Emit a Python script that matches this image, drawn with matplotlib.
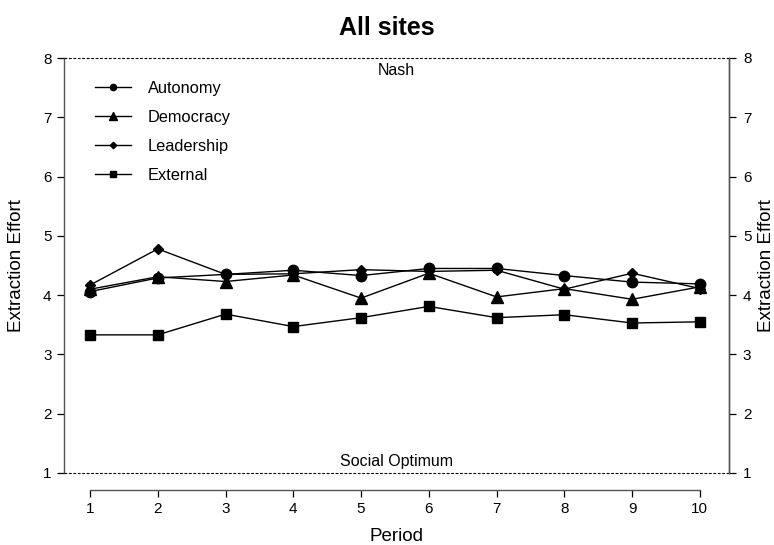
import numpy as np
import matplotlib.pyplot as plt

plt.rcParams['font.family'] = ['Liberation Sans', 'DejaVu Sans']

periods = [1, 2, 3, 4, 5, 6, 7, 8, 9, 10]
autonomy = [4.06, 4.29, 4.35, 4.42, 4.33, 4.45, 4.45, 4.33, 4.22, 4.19]
democracy = [4.10, 4.31, 4.23, 4.34, 3.95, 4.37, 3.97, 4.11, 3.93, 4.14]
leadership = [4.17, 4.78, 4.35, 4.36, 4.43, 4.40, 4.42, 4.10, 4.37, 4.11]
external = [3.33, 3.33, 3.68, 3.47, 3.62, 3.81, 3.62, 3.67, 3.53, 3.55]
nash_level = 8
social_level = 1

fig = plt.figure(figsize=(7.74, 5.45), dpi=100)
ax = fig.add_axes([64 / 774, 1 - 473 / 545, 665 / 774, 415 / 545])

ax.plot(periods, autonomy, color='black', lw=1, marker='o', ms=7.5, label='Autonomy')
ax.plot(periods, democracy, color='black', lw=1, marker='^', ms=8.5, label='Democracy')
ax.plot(periods, leadership, color='black', lw=1, marker='D', ms=5.5, label='Leadership')
ax.plot(periods, external, color='black', lw=1, marker='s', ms=7.5, label='External')

ax.axhline(nash_level, color='black', lw=0.8, ls=(0, (2.5, 1.5)), clip_on=False, zorder=5)
ax.axhline(social_level, color='black', lw=0.8, ls=(0, (2.5, 1.5)), clip_on=False, zorder=5)
ax.text(0.5, nash_level - 0.09, 'Nash', transform=ax.get_yaxis_transform(),
        ha='center', va='top', fontsize=11.5)
ax.text(0.5, social_level + 0.06, 'Social Optimum', transform=ax.get_yaxis_transform(),
        ha='center', va='bottom', fontsize=11.5)

ax.set_xlim(0.616, 10.43)
ax.set_ylim(1, 8)
ax.set_xticks(periods)
ax.set_yticks(range(1, 9))
ax.spines['top'].set_visible(False)
ax.spines['bottom'].set_position(('outward', 12.2))
ax.spines['bottom'].set_bounds(1, 10)
for s in ['left', 'right', 'bottom']:
    ax.spines[s].set_linewidth(1.0)
    ax.spines[s].set_color('#555555')
ax.tick_params(axis='both', direction='out', length=5, width=0.9, labelsize=11, pad=4)
ax.set_xlabel('Period', fontsize=13.5, labelpad=8)
ax.set_ylabel('Extraction Effort', fontsize=13.5, labelpad=13)

ax2 = ax.twinx()
ax2.set_ylim(1, 8)
ax2.set_yticks(range(1, 9))
for s in ['top', 'bottom', 'left']:
    ax2.spines[s].set_visible(False)
ax2.spines['right'].set_linewidth(1.0)
ax2.spines['right'].set_color('#555555')
ax2.tick_params(axis='y', direction='out', length=5, width=0.9, labelsize=11, pad=5)
ax2.set_ylabel('Extraction Effort', fontsize=13.5, labelpad=5)

ax.legend(loc='upper left', bbox_to_anchor=(0.025, 0.98), frameon=False, fontsize=11.8,
          markerscale=0.6, handlelength=2.2, handletextpad=1.0, labelspacing=0.85)

fig.suptitle('All sites', fontsize=18, fontweight='bold', y=0.97)

plt.savefig('out.png', dpi=100)
